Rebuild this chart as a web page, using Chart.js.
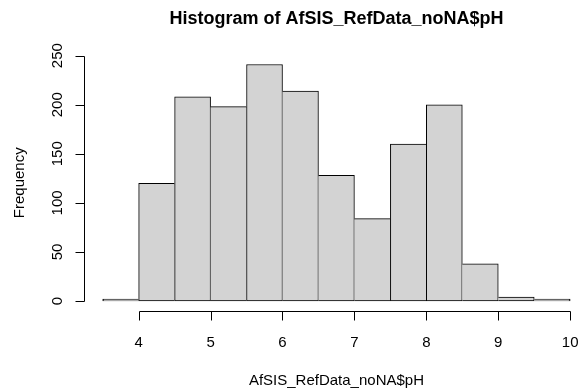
<!DOCTYPE html>
<html>
<head>
<meta charset="utf-8">
<script src="https://cdn.jsdelivr.net/npm/chart.js@4/dist/chart.umd.min.js"></script>
<style>
  html, body { margin: 0; padding: 0; background: #fff; }
  canvas { display: block; }
</style>
</head>
<body>
<canvas id="hist" width="586" height="389"></canvas>
<script>
// histogram breaks and counts (pH bins of width 0.5)
var breaks = [3.5, 4, 4.5, 5, 5.5, 6, 6.5, 7, 7.5, 8, 8.5, 9, 9.5, 10];
var counts = [2, 120, 208, 198, 241, 214, 128, 84, 160, 200, 38, 4, 2];
var xTicks = [4, 5, 6, 7, 8, 9, 10];
var yTicks = [0, 50, 100, 150, 200, 250];

var titleText = "Histogram of AfSIS_RefData_noNA$pH";
var xLabel = "AfSIS_RefData_noNA$pH";
var yLabel = "Frequency";

var fontFam = '"Liberation Sans", Arial, sans-serif';

var points = [];
for (var i = 0; i < counts.length; i++) {
  points.push({ x: (breaks[i] + breaks[i + 1]) / 2, y: counts[i] });
}

// shared edge between two bars is drawn once, by the taller one
function edgeWidths(c) {
  var i = c.dataIndex;
  var h = counts[i];
  var left = (i === 0 || h >= counts[i - 1]) ? 1 : 0;
  var right = (i === counts.length - 1 || h > counts[i + 1]) ? 1 : 0;
  return { top: 1, bottom: 1, left: left, right: right };
}

// R style axes, drawn from the chart scales
var rAxes = {
  id: "rAxes",
  afterDraw: function (chart) {
    var ctx = chart.ctx;
    var xs = chart.scales.x;
    var ys = chart.scales.y;
    var area = chart.chartArea;
    var tick = 9;

    ctx.save();
    ctx.strokeStyle = "#000";
    ctx.lineWidth = 1;
    ctx.fillStyle = "#000";

    // x axis
    var yAx = Math.round(area.bottom) + 0.5;
    ctx.beginPath();
    ctx.moveTo(Math.round(xs.getPixelForValue(xTicks[0])) + 0.5, yAx);
    ctx.lineTo(Math.round(xs.getPixelForValue(xTicks[xTicks.length - 1])) + 0.5, yAx);
    xTicks.forEach(function (v) {
      var px = Math.round(xs.getPixelForValue(v)) + 0.5;
      ctx.moveTo(px, yAx);
      ctx.lineTo(px, yAx + tick);
    });
    ctx.stroke();

    ctx.font = "15px " + fontFam;
    ctx.textAlign = "center";
    ctx.textBaseline = "alphabetic";
    xTicks.forEach(function (v) {
      ctx.fillText(String(v), xs.getPixelForValue(v), 347);
    });

    // y axis
    var xAx = Math.round(area.left) + 0.5;
    ctx.beginPath();
    ctx.moveTo(xAx, Math.round(ys.getPixelForValue(yTicks[0])) + 0.5);
    ctx.lineTo(xAx, Math.round(ys.getPixelForValue(yTicks[yTicks.length - 1])) + 0.5);
    yTicks.forEach(function (v) {
      var py = Math.round(ys.getPixelForValue(v)) + 0.5;
      ctx.moveTo(xAx, py);
      ctx.lineTo(xAx - tick, py);
    });
    ctx.stroke();

    yTicks.forEach(function (v) {
      ctx.save();
      ctx.translate(61.5, ys.getPixelForValue(v));
      ctx.rotate(-Math.PI / 2);
      ctx.fillText(String(v), 0, 0);
      ctx.restore();
    });

    // axis titles
    var cx = (area.left + xs.getPixelForValue(10.26)) / 2;
    ctx.fillText(xLabel, cx, 385);

    ctx.save();
    ctx.translate(23.5, (area.top + area.bottom) / 2);
    ctx.rotate(-Math.PI / 2);
    ctx.fillText(yLabel, 0, 0);
    ctx.restore();

    // main title
    ctx.font = "bold 18px " + fontFam;
    ctx.fillText(titleText, cx, 23.5);

    ctx.restore();
  }
};

var ctx = document.getElementById("hist").getContext("2d");
var chart = new Chart(ctx, {
  type: "bar",
  data: {
    datasets: [
      {
        data: points,
        backgroundColor: "#d3d3d3",
        borderColor: "#000",
        borderWidth: edgeWidths,
        borderSkipped: false,
        barPercentage: 1,
        categoryPercentage: 1
      }
    ]
  },
  options: {
    responsive: false,
    animation: false,
    devicePixelRatio: 1,
    layout: {
      padding: { left: 84, right: 0, top: 55, bottom: 78.5 }
    },
    plugins: {
      legend: { display: false },
      tooltip: { enabled: false },
      title: { display: false }
    },
    scales: {
      x: {
        type: "linear",
        display: false,
        offset: false,
        min: 3.24,
        max: 10.22
      },
      y: {
        display: false,
        min: -9.64,
        max: 250.64
      }
    }
  },
  plugins: [rAxes]
});
</script>
</body>
</html>
